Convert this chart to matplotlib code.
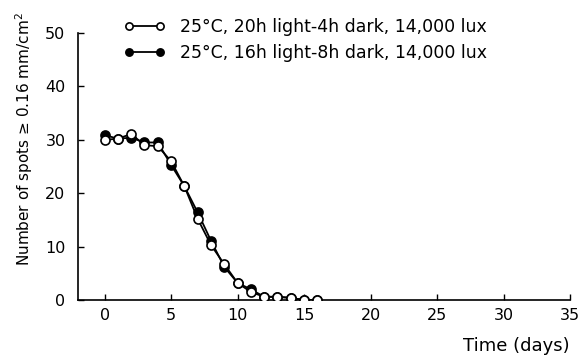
import matplotlib
matplotlib.use("Agg")
import matplotlib.pyplot as plt

days = list(range(0, 17))
open_vals = [30.0, 30.2, 31.1, 29.0, 28.8, 26.0, 21.3, 15.2, 10.3, 6.7, 3.2, 1.5, 0.6, 0.6, 0.4, 0.0, 0.0]
filled_vals = [30.9, 30.2, 30.4, 29.5, 29.5, 25.3, 21.3, 16.4, 11.1, 6.2, 3.2, 2.0, 0.6, 0.6, 0.4, 0.0, 0.0]
label_open = "25°C, 20h light-4h dark, 14,000 lux"
label_filled = "25°C, 16h light-8h dark, 14,000 lux"
xticks = [0, 5, 10, 15, 20, 25, 30, 35]
yticks = [0, 10, 20, 30, 40, 50]

plt.rcParams['font.family'] = ['DejaVu Sans']
fig = plt.figure(figsize=(5.79, 3.56), dpi=100)
ax = fig.add_axes([78/579, 1-300/356, (570-78)/579, (300-33)/356])

ax.plot(days, filled_vals, '-o', color='black', mfc='black', mec='black',
        ms=6.5, mew=1.2, lw=1.3, label=label_filled, zorder=3)
ax.plot(days, open_vals, '-o', color='black', mfc='white', mec='black',
        ms=6.5, mew=1.2, lw=1.3, label=label_open, zorder=4)

ax.set_xlim(-2, 35)
ax.set_ylim(0, 50)
ax.set_xticks(xticks)
ax.set_yticks(yticks)
ax.tick_params(direction='in', length=4, width=1, labelsize=11.5)
ax.tick_params(axis='x', pad=6)
ax.tick_params(axis='y', pad=9)
for s in ['top', 'right']:
    ax.spines[s].set_visible(False)
for s in ['left', 'bottom']:
    ax.spines[s].set_linewidth(1.2)

ax.set_ylabel("Number of spots ≥ 0.16 mm/cm$^2$", fontsize=11)
ax.yaxis.set_label_coords(-0.088, 0.603)
ax.set_xlabel("Time (days)", fontsize=13)
ax.xaxis.set_label_coords(1.0, -0.14)
ax.xaxis.label.set_horizontalalignment('right')

h, l = ax.get_legend_handles_labels()
leg = fig.legend([h[1], h[0]], [l[1], l[0]], loc='upper left',
                 bbox_to_anchor=(117/579, 1-11/356), bbox_transform=fig.transFigure,
                 frameon=False, numpoints=2, fontsize=12.5, handlelength=2.4,
                 handletextpad=0.8, labelspacing=0.45, borderaxespad=0,
                 markerscale=0.8)

fig.savefig("out.png", dpi=100)
